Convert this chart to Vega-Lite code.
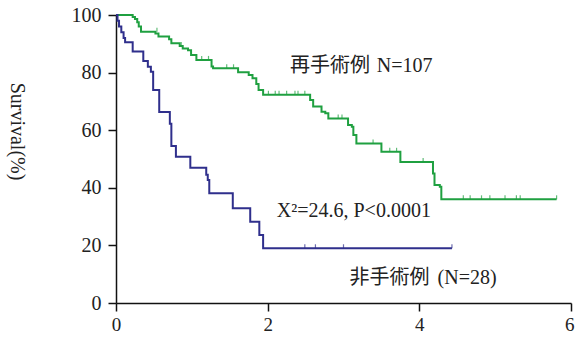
{
  "$schema": "https://vega.github.io/schema/vega-lite/v6.json",
  "autosize": {"type": "none"},
  "padding": {"left": 116, "top": 15, "right": 4, "bottom": 37},
  "width": 455,
  "height": 288,
  "background": "white",
  "config": {"view": {"stroke": null}},
  "datasets": {
    "curves": [
      {"group": "op", "t": 0, "s": 100}, {"group": "op", "t": 0.22, "s": 99.3}, {"group": "op", "t": 0.25, "s": 98.6},
      {"group": "op", "t": 0.28, "s": 97.5}, {"group": "op", "t": 0.3, "s": 96}, {"group": "op", "t": 0.33, "s": 94.2},
      {"group": "op", "t": 0.52, "s": 93.6}, {"group": "op", "t": 0.56, "s": 92.5}, {"group": "op", "t": 0.7, "s": 91.6},
      {"group": "op", "t": 0.73, "s": 90.2}, {"group": "op", "t": 0.84, "s": 89.2}, {"group": "op", "t": 0.88, "s": 88.4},
      {"group": "op", "t": 0.95, "s": 87.8}, {"group": "op", "t": 0.99, "s": 86.1}, {"group": "op", "t": 1.06, "s": 84.4},
      {"group": "op", "t": 1.26, "s": 82.1}, {"group": "op", "t": 1.28, "s": 81.5}, {"group": "op", "t": 1.61, "s": 80.1},
      {"group": "op", "t": 1.75, "s": 79.2}, {"group": "op", "t": 1.8, "s": 78}, {"group": "op", "t": 1.85, "s": 76},
      {"group": "op", "t": 1.88, "s": 74}, {"group": "op", "t": 1.94, "s": 72.3}, {"group": "op", "t": 2.56, "s": 70.5},
      {"group": "op", "t": 2.6, "s": 68.2}, {"group": "op", "t": 2.71, "s": 66.4}, {"group": "op", "t": 2.76, "s": 65.9},
      {"group": "op", "t": 2.8, "s": 64.1}, {"group": "op", "t": 3.06, "s": 61.8}, {"group": "op", "t": 3.11, "s": 61.2},
      {"group": "op", "t": 3.13, "s": 58.3}, {"group": "op", "t": 3.17, "s": 55.4}, {"group": "op", "t": 3.5, "s": 52.5},
      {"group": "op", "t": 3.75, "s": 49}, {"group": "op", "t": 4.18, "s": 45}, {"group": "op", "t": 4.2, "s": 41},
      {"group": "op", "t": 4.27, "s": 40.4}, {"group": "op", "t": 4.29, "s": 36}, {"group": "op", "t": 5.81, "s": 36},
      {"group": "non", "t": 0, "s": 100}, {"group": "non", "t": 0.02, "s": 98}, {"group": "non", "t": 0.04, "s": 96},
      {"group": "non", "t": 0.07, "s": 94}, {"group": "non", "t": 0.1, "s": 92}, {"group": "non", "t": 0.12, "s": 90.5},
      {"group": "non", "t": 0.22, "s": 87.3}, {"group": "non", "t": 0.36, "s": 84}, {"group": "non", "t": 0.42, "s": 82},
      {"group": "non", "t": 0.46, "s": 80.3}, {"group": "non", "t": 0.49, "s": 74}, {"group": "non", "t": 0.57, "s": 66.3},
      {"group": "non", "t": 0.71, "s": 62.2}, {"group": "non", "t": 0.73, "s": 54.5}, {"group": "non", "t": 0.79, "s": 50.8},
      {"group": "non", "t": 0.98, "s": 47}, {"group": "non", "t": 1.19, "s": 44.5}, {"group": "non", "t": 1.21, "s": 42.7},
      {"group": "non", "t": 1.23, "s": 38.1}, {"group": "non", "t": 1.54, "s": 32.9}, {"group": "non", "t": 1.77, "s": 28.2},
      {"group": "non", "t": 1.89, "s": 23.6}, {"group": "non", "t": 1.94, "s": 19}, {"group": "non", "t": 4.43, "s": 19}
    ],
    "censors": [
      {"group": "op", "t": 0.54, "s": 94.2}, {"group": "op", "t": 0.86, "s": 89.2}, {"group": "op", "t": 1.13, "s": 84.4},
      {"group": "op", "t": 1.22, "s": 84.4}, {"group": "op", "t": 1.46, "s": 81.5}, {"group": "op", "t": 1.55, "s": 81.5},
      {"group": "op", "t": 2.01, "s": 72.3}, {"group": "op", "t": 2.1, "s": 72.3}, {"group": "op", "t": 2.15, "s": 72.3},
      {"group": "op", "t": 2.25, "s": 72.3}, {"group": "op", "t": 2.36, "s": 72.3}, {"group": "op", "t": 2.4, "s": 72.3},
      {"group": "op", "t": 2.49, "s": 72.3}, {"group": "op", "t": 2.93, "s": 64.1}, {"group": "op", "t": 2.98, "s": 64.1},
      {"group": "op", "t": 3.39, "s": 55.4}, {"group": "op", "t": 3.61, "s": 52.5}, {"group": "op", "t": 3.7, "s": 52.5},
      {"group": "op", "t": 4.05, "s": 49}, {"group": "op", "t": 4.58, "s": 36}, {"group": "op", "t": 4.67, "s": 36},
      {"group": "op", "t": 4.82, "s": 36}, {"group": "op", "t": 4.93, "s": 36}, {"group": "op", "t": 5.13, "s": 36},
      {"group": "op", "t": 5.28, "s": 36}, {"group": "op", "t": 5.33, "s": 36}, {"group": "op", "t": 5.81, "s": 36},
      {"group": "non", "t": 2.49, "s": 19}, {"group": "non", "t": 2.63, "s": 19}, {"group": "non", "t": 3.0, "s": 19},
      {"group": "non", "t": 4.43, "s": 19}
    ],
    "cjk": [
      {"label": "再手術例", "t": 2.295, "s": 80.3},
      {"label": "非手術例", "t": 3.08, "s": 6.6}
    ],
    "latin": [
      {"label": "N=107", "t": 3.44, "s": 80.3},
      {"label": "X²=24.6, P<0.0001", "t": 2.12, "s": 30},
      {"label": "(N=28)", "t": 4.24, "s": 6.6}
    ]
  },
  "layer": [
    {
      "data": {"name": "curves"},
      "mark": {"type": "line", "interpolate": "step-after", "strokeWidth": 2},
      "encoding": {
        "x": {
          "field": "t", "type": "quantitative",
          "scale": {"domain": [0, 6], "nice": false},
          "axis": {
            "values": [0, 2, 4, 6], "format": "d", "title": null, "grid": false,
            "domainColor": "#111", "domainWidth": 1.5, "tickColor": "#111", "tickWidth": 1.5, "tickSize": 8,
            "labelFont": "Liberation Serif", "labelFontSize": 19, "labelColor": "#222", "labelPadding": 4,
            "labelFlush": false,
            "labelAlign": {"condition": {"test": "datum.value == 6", "value": "right"}, "value": "center"},
            "labelOffset": {"condition": {"test": "datum.value == 6", "value": 3}, "value": 0}
          }
        },
        "y": {
          "field": "s", "type": "quantitative",
          "scale": {"domain": [0, 100], "nice": false},
          "axis": {
            "values": [0, 20, 40, 60, 80, 100], "title": "Survival(%)", "grid": false,
            "domainColor": "#111", "domainWidth": 1.5, "tickColor": "#111", "tickWidth": 1.5, "tickSize": 8,
            "labelFont": "Liberation Serif", "labelFontSize": 20, "labelColor": "#222", "labelPadding": 7,
            "titleFont": "Liberation Serif", "titleFontSize": 20, "titleFontWeight": "normal", "titleColor": "#222",
            "titleAngle": 90, "titleX": -100, "titleY": 116, "titleAlign": "center", "titleBaseline": "middle"
          }
        },
        "color": {
          "field": "group", "type": "nominal",
          "scale": {"domain": ["op", "non"], "range": ["#1fa040", "#2f2f8c"]},
          "legend": null
        }
      }
    },
    {
      "data": {"name": "censors"},
      "mark": {"type": "tick", "orient": "vertical", "size": 4, "thickness": 1.2, "yOffset": -2},
      "encoding": {
        "x": {"field": "t", "type": "quantitative"},
        "y": {"field": "s", "type": "quantitative"},
        "color": {"field": "group", "type": "nominal", "legend": null}
      }
    },
    {
      "data": {"name": "cjk"},
      "mark": {"type": "text", "font": "Noto Sans CJK JP", "fontSize": 20, "align": "left", "baseline": "alphabetic", "color": "#222"},
      "encoding": {
        "x": {"field": "t", "type": "quantitative"},
        "y": {"field": "s", "type": "quantitative"},
        "text": {"field": "label"}
      }
    },
    {
      "data": {"name": "latin"},
      "mark": {"type": "text", "font": "Liberation Serif", "fontSize": 20, "align": "left", "baseline": "alphabetic", "color": "#222"},
      "encoding": {
        "x": {"field": "t", "type": "quantitative"},
        "y": {"field": "s", "type": "quantitative"},
        "text": {"field": "label"}
      }
    }
  ]
}
